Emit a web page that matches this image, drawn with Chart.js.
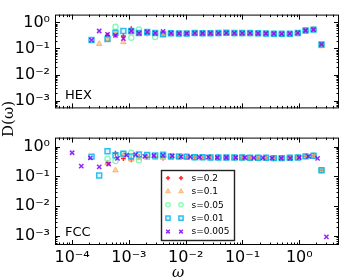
<!DOCTYPE html>
<html><head><meta charset="utf-8">
<script src="https://cdn.jsdelivr.net/npm/chart.js@4/dist/chart.umd.min.js"></script>
<style>
html,body{margin:0;padding:0;background:#fff;width:344px;height:279px;overflow:hidden}
#wrap{position:relative;width:344px;height:279px}
#c1{position:absolute;left:0;top:0}
#c2{position:absolute;left:0;top:123px}
#ylab{position:absolute;left:-22px;top:110px;width:60px;height:18px;line-height:18px;text-align:center;transform:rotate(-90deg);font:15px 'DejaVu Serif';color:#000}
#xlab{position:absolute;left:166px;top:263px;width:24px;height:18px;line-height:18px;text-align:center;font:italic 15px 'DejaVu Serif';color:#000}
</style></head>
<body><div id="wrap">
<canvas id="c1" width="344" height="123"></canvas>
<canvas id="c2" width="344" height="156"></canvas>
<div id="ylab">D(ω)</div>
<div id="xlab">ω</div>
</div>
<script>
// frequencies (omega) for s=0.2, 0.1, 0.05, 0.01 and the HEX s=0.005 series
const omegaA = [2.2e-4, 3.0e-4, 4.2e-4, 5.8e-4, 8.0e-4, 1.1e-3, 1.5e-3, 2.1e-3, 2.9e-3, 4.0e-3,
  5.5e-3, 7.6e-3, 1.04e-2, 1.44e-2, 1.98e-2, 2.73e-2, 3.77e-2, 5.2e-2, 7.2e-2, 9.9e-2,
  0.136, 0.188, 0.259, 0.357, 0.49, 0.68, 0.94, 1.29, 1.78, 2.46];
// frequencies for FCC s=0.005 series
const omegaB = [1.0e-4, 1.45e-4, 2.1e-4, 3.0e-4, 4.4e-4, 6.3e-4, 9.1e-4, 1.32e-3, 1.91e-3, 2.75e-3,
  3.98e-3, 5.8e-3, 8.3e-3, 1.2e-2, 1.74e-2, 2.5e-2, 3.6e-2, 5.2e-2, 7.6e-2, 0.11,
  0.158, 0.229, 0.33, 0.48, 0.69, 1.0, 1.45, 2.1, 3.0];

// HEX panel
const hexS02  = [null, null, 0.32, 0.33, 0.30, 0.57, 0.40, 0.37, 0.38, 0.35, 0.38, 0.37, 0.37, 0.39, 0.38, 0.38, 0.39, 0.39, 0.39, 0.39, 0.39, 0.38, 0.37, 0.37, 0.36, 0.37, 0.39, 0.49, 0.55, 0.14];
const hexS01  = [null, 0.15, 0.23, 0.40, 0.176, 0.42, 0.36, 0.36, 0.37, 0.33, 0.37, 0.36, 0.36, 0.37, 0.36, 0.36, 0.37, 0.38, 0.37, 0.37, 0.37, 0.36, 0.36, 0.35, 0.35, 0.35, 0.38, 0.48, 0.55, 0.122];
const hexS005 = [null, null, null, 0.68, null, 0.26, 0.54, 0.42, 0.275, 0.36, 0.38, 0.37, 0.37, 0.39, 0.38, 0.38, 0.38, 0.39, 0.38, 0.38, 0.38, 0.38, 0.37, 0.37, 0.36, 0.36, 0.39, 0.49, 0.53, 0.14];
const hexS001 = [0.21, null, 0.23, 0.40, 0.47, 0.47, 0.39, 0.43, 0.39, 0.35, 0.386, 0.377, 0.377, 0.39, 0.385, 0.385, 0.39, 0.40, 0.39, 0.39, 0.39, 0.385, 0.377, 0.37, 0.365, 0.37, 0.395, 0.49, 0.53, 0.143];
const hexS0005= [0.21, 0.47, 0.35, 0.32, 0.24, 0.47, 0.39, 0.43, 0.39, 0.45, 0.386, 0.377, 0.377, 0.39, 0.385, 0.385, 0.39, 0.40, 0.39, 0.39, 0.39, 0.385, 0.377, 0.37, 0.365, 0.37, 0.395, 0.49, 0.53, 0.143];

// FCC panel
const fccS02  = [null, null, 0.28, 0.60, 0.40, 0.36, 0.46, 0.44, 0.44, 0.41, 0.45, 0.45, 0.45, 0.44, 0.43, 0.43, 0.43, 0.42, 0.42, 0.42, 0.42, 0.41, 0.41, 0.41, 0.41, 0.42, 0.43, 0.47, 0.49, 0.16];
const fccS01  = [null, null, 0.28, 0.16, 0.50, 0.37, 0.41, 0.42, 0.42, 0.42, 0.43, 0.43, 0.43, 0.42, 0.42, 0.42, 0.42, 0.41, 0.41, 0.41, 0.41, 0.40, 0.40, 0.40, 0.40, 0.41, 0.42, 0.46, 0.48, 0.155];
const fccS005 = [null, null, 0.39, 0.33, 0.58, 0.62, 0.35, 0.50, 0.47, 0.46, 0.45, 0.45, 0.45, 0.44, 0.44, 0.43, 0.43, 0.43, 0.43, 0.43, 0.42, 0.42, 0.42, 0.41, 0.41, 0.42, 0.43, 0.47, 0.49, 0.16];
const fccS001 = [0.46, 0.107, 0.70, 0.51, 0.58, 0.47, 0.54, 0.52, 0.50, 0.53, 0.47, 0.47, 0.46, 0.44, 0.44, 0.43, 0.43, 0.43, 0.43, 0.43, 0.42, 0.42, 0.42, 0.41, 0.41, 0.42, 0.43, 0.47, 0.49, 0.16];
const fccS0005= [0.62, 0.22, 0.42, 0.21, 0.26, 0.40, 0.52, 0.54, 0.47, 0.50, 0.52, 0.49, 0.46, 0.45, 0.44, 0.44, 0.43, 0.43, 0.43, 0.43, 0.42, 0.42, 0.41, 0.41, 0.41, 0.43, 0.47, 0.40, 0.00093];

const seriesLabels = ['s=0.2', 's=0.1', 's=0.05', 's=0.01', 's=0.005'];
const panelNames = ['HEX', 'FCC'];
const xTickValues = [1e-4, 1e-3, 1e-2, 1e-1, 1];
const xTickLabels = ['10⁻⁴', '10⁻³', '10⁻²', '10⁻¹', '10⁰'];
const yTickValues = [1e-3, 1e-2, 1e-1, 1];
const yTickLabels = ['10⁻³', '10⁻²', '10⁻¹', '10⁰'];

const styles = [
  {pointStyle:'cross',    radius:2.5, borderWidth:1.5, borderColor:'rgba(255,0,0,0.85)',     backgroundColor:'rgba(255,0,0,0.85)'},
  {pointStyle:'triangle', radius:3.2, borderWidth:1,   borderColor:'rgba(255,170,90,0.8)',   backgroundColor:'rgba(255,185,120,0.65)'},
  {pointStyle:'circle',   radius:2.6, borderWidth:1.2, borderColor:'rgba(110,250,170,0.9)',  backgroundColor:'rgba(255,255,255,0)'},
  {pointStyle:'rect',     radius:3.5, borderWidth:1.5, borderColor:'rgba(0,175,236,0.8)',    backgroundColor:'rgba(0,180,236,0.12)'},
  {pointStyle:'crossRot', radius:3.0, borderWidth:1.5, borderColor:'rgba(128,0,255,0.85)',   backgroundColor:'rgba(128,0,255,0.85)'}
];

function pts(xs, ys){
  const out = [];
  for (let k = 0; k < ys.length; k++) if (ys[k] !== null) out.push({x: xs[k], y: ys[k]});
  return out;
}
function datasets(series){
  return series.map((s, i) => ({
    label: seriesLabels[i],
    data: pts(s[0], s[1]),
    pointStyle: styles[i].pointStyle,
    pointRadius: styles[i].radius,
    pointHoverRadius: styles[i].radius,
    pointBorderWidth: styles[i].borderWidth,
    pointBorderColor: styles[i].borderColor,
    pointBackgroundColor: styles[i].backgroundColor,
    borderColor: styles[i].borderColor,
    backgroundColor: styles[i].backgroundColor,
    showLine: false,
    order: 5 - i
  }));
}

const tickFont = {family:'DejaVu Sans', size:16};
function scalesCfg(showX){
  return {
    x: {type:'logarithmic', min:5e-5, max:5, display:showX,
        afterBuildTicks: s => { s.ticks = xTickValues.map(v => ({value:v})); },
        afterFit: s => { if (showX) s.height = 34; },
        grid:{display:false, drawTicks:false}, border:{display:false},
        ticks:{font:tickFont, color:'#000', padding:3, maxRotation:0, autoSkip:false,
               callback:(v, i) => xTickLabels[i]}},
    y: {type:'logarithmic', min:5e-4, max:2,
        afterBuildTicks: s => { s.ticks = yTickValues.map(v => ({value:v})); },
        afterFit: s => { s.width = 55; },
        grid:{display:false, drawTicks:false}, border:{display:false},
        ticks:{font:tickFont, color:'#000', padding:5, autoSkip:false,
               callback:(v, i) => yTickLabels[i]}}
  };
}

const framePlugin = {
  id:'frame',
  afterDraw(chart, args, opts){
    const {ctx, chartArea:a} = chart;
    const x = chart.scales.x, y = chart.scales.y;
    ctx.save();
    ctx.strokeStyle = '#000'; ctx.lineWidth = 1;
    ctx.strokeRect(a.left + 0.5, a.top + 0.5, a.right - a.left - 1, a.bottom - a.top - 1);
    ctx.beginPath();
    for (let e = -5; e <= 1; e++) for (let m = 1; m <= 9; m++) {
      const v = m * Math.pow(10, e);
      const L = m === 1 ? 5 : 2.5;
      if (v > x.min && v < x.max) {
        const px = Math.round(x.getPixelForValue(v)) + 0.5;
        ctx.moveTo(px, a.bottom); ctx.lineTo(px, a.bottom - L);
        ctx.moveTo(px, a.top); ctx.lineTo(px, a.top + L);
      }
      if (v > y.min && v < y.max) {
        const py = Math.round(y.getPixelForValue(v)) + 0.5;
        ctx.moveTo(a.left, py); ctx.lineTo(a.left + L, py);
        ctx.moveTo(a.right, py); ctx.lineTo(a.right - L, py);
      }
    }
    ctx.stroke();
    ctx.fillStyle = '#000';
    ctx.font = '13px "DejaVu Sans"';
    ctx.textBaseline = 'alphabetic'; ctx.textAlign = 'left';
    ctx.fillText(opts.label, a.left + 10, a.bottom - 9);

    if (opts.legend) {
      const w = 73, h = 70;
      const bx = Math.round((a.left + a.right) / 2 - w / 2) + 0.5;
      const by = Math.round(a.bottom - 5 - h) + 0.5;
      ctx.fillStyle = '#fff';
      ctx.fillRect(bx, by, w, h);
      ctx.strokeStyle = '#222'; ctx.lineWidth = 1.4;
      ctx.strokeRect(bx, by, w, h);
      ctx.font = '9px "DejaVu Sans"';
      ctx.textBaseline = 'middle';
      chart.data.datasets.forEach((ds, i) => {
        const cy = by + 7.5 + i * 13.4;
        [6.5, 19.5].forEach(dx => {
          ctx.fillStyle = ds.pointBackgroundColor;
          ctx.strokeStyle = ds.pointBorderColor;
          ctx.lineWidth = ds.pointBorderWidth;
          Chart.helpers.drawPoint(ctx, {pointStyle: ds.pointStyle, radius: ds.pointRadius * 0.85, rotation: 0, borderWidth: ds.pointBorderWidth}, bx + dx, cy);
        });
        ctx.fillStyle = '#000';
        ctx.fillText(ds.label, bx + 30, cy + 0.5);
      });
    }
    ctx.restore();
  }
};

function makeChart(id, series, showX, label, legend, padTop){
  return new Chart(document.getElementById(id), {
    type:'scatter',
    data:{datasets: datasets(series)},
    options:{
      responsive:false, animation:false, devicePixelRatio:1,
      layout:{padding:{top:padTop, right:2, bottom:0, left:0}},
      scales: scalesCfg(showX),
      plugins:{legend:{display:false}, tooltip:{enabled:false}, frame:{label:label, legend:legend}}
    },
    plugins:[framePlugin]
  });
}

makeChart('c1', [[omegaA, hexS02], [omegaA, hexS01], [omegaA, hexS005], [omegaA, hexS001], [omegaA, hexS0005]], false, panelNames[0], false, 1);
makeChart('c2', [[omegaA, fccS02], [omegaA, fccS01], [omegaA, fccS005], [omegaA, fccS001], [omegaB, fccS0005]], true, panelNames[1], true, 0);
</script>
</body></html>
